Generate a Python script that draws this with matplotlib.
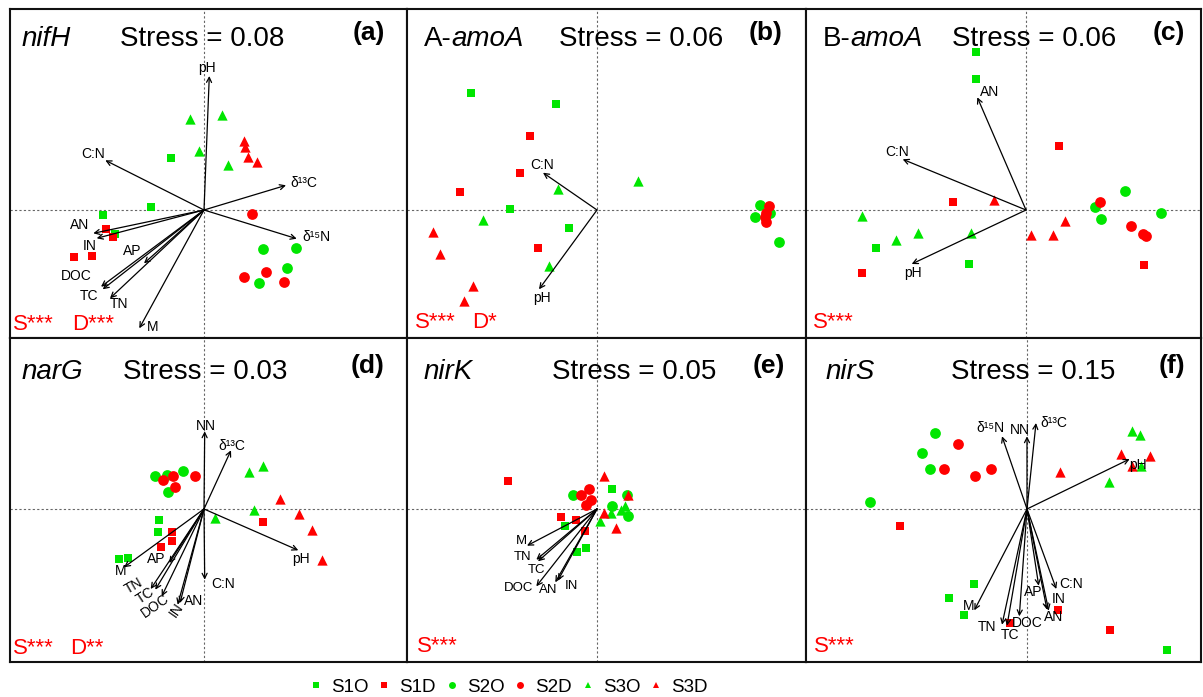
import matplotlib
matplotlib.use("Agg")
import matplotlib.pyplot as plt
from matplotlib.lines import Line2D

plt.rcParams['font.family'] = ['Liberation Sans', 'DejaVu Sans']

GREEN = '#00e600'
RED = '#ff0000'

# ---------------- data (NMDS scores, arbitrary units) ----------------
groups = ['S1O', 'S1D', 'S2O', 'S2D', 'S3O', 'S3D']

# panel (a) nifH
a_S1O = [(-0.333, 0.523), (-0.53, 0.033), (-1.013, -0.05), (-0.89, -0.243)]
a_S1D = [(-0.98, -0.187), (-0.907, -0.267), (-1.3, -0.473), (-1.12, -0.46)]
a_S2O = [(0.593, -0.393), (0.923, -0.383), (0.833, -0.58), (0.553, -0.727)]
a_S2D = [(0.483, -0.043), (0.617, -0.62), (0.403, -0.667), (0.8, -0.717)]
a_S3O = [(-0.14, 0.907), (0.177, 0.95), (-0.05, 0.593), (0.237, 0.453)]
a_S3D = [(0.403, 0.693), (0.413, 0.627), (0.44, 0.527), (0.527, 0.48)]
a_vec_names = ['pH', 'C:N', 'δ¹³C', 'δ¹⁵N', 'AN', 'IN', 'AP', 'DOC', 'TC', 'TN', 'M']
a_vec = [(0.053, 1.34), (-0.987, 0.497), (0.82, 0.247), (0.927, -0.287),
         (-1.107, -0.233), (-1.073, -0.283), (-0.6, -0.533), (-1.03, -0.767),
         (-1.013, -0.793), (-0.94, -0.883), (-0.647, -1.183)]

# panel (b) A-amoA
b_S1O = [(-1.26, 1.173), (-0.407, 1.063), (-0.867, 0.01), (-0.283, -0.177)]
b_S1D = [(-0.673, 0.743), (-0.773, 0.37), (-1.373, 0.183), (-0.587, -0.383)]
b_S2O = [(1.633, 0.05), (1.583, -0.07), (1.727, -0.033), (1.823, -0.323)]
b_S2D = [(1.723, 0.043), (1.69, -0.033), (1.693, -0.117), (1.683, -0.067)]
b_S3O = [(0.407, 0.29), (-0.393, 0.21), (-1.14, -0.1), (-0.483, -0.557)]
b_S3D = [(-1.643, -0.217), (-1.573, -0.44), (-1.24, -0.757), (-1.327, -0.91)]
b_vec_names = ['C:N', 'pH']
b_vec = [(-0.54, 0.373), (-0.58, -0.793)]

# panel (c) B-amoA
c_S1O = [(-0.5, 1.577), (-0.5, 1.31), (-1.5, -0.383), (-0.567, -0.543)]
c_S1D = [(0.327, 0.643), (-0.733, 0.077), (-1.637, -0.627), (1.18, -0.55)]
c_S2O = [(0.99, 0.19), (0.69, 0.033), (0.747, -0.09), (1.35, -0.027)]
c_S2D = [(0.74, 0.083), (1.047, -0.16), (1.173, -0.243), (1.2, -0.26)]
c_S3O = [(-1.637, -0.057), (-1.303, -0.3), (-1.077, -0.233), (-0.553, -0.233)]
c_S3D = [(-0.32, 0.1), (0.39, -0.107), (0.05, -0.25), (0.273, -0.25)]
c_vec_names = ['AN', 'C:N', 'pH']
c_vec = [(-0.487, 1.127), (-1.233, 0.507), (-1.143, -0.54)]

# panel (d) narG
d_S1O = [(-0.453, -0.107), (-0.463, -0.233), (-0.847, -0.5), (-0.757, -0.49)]
d_S1D = [(-0.32, -0.233), (-0.32, -0.317), (-0.427, -0.383), (0.593, -0.133)]
d_S2O = [(-0.487, 0.333), (-0.373, 0.337), (-0.207, 0.377), (-0.357, 0.167)]
d_S2D = [(-0.407, 0.293), (-0.313, 0.327), (-0.293, 0.22), (-0.087, 0.333)]
d_S3O = [(0.453, 0.367), (0.587, 0.427), (0.5, -0.013), (0.11, -0.09)]
d_S3D = [(0.76, 0.1), (0.953, -0.047), (1.077, -0.213), (1.183, -0.513)]
d_vec_names = ['NN', 'δ¹³C', 'pH', 'C:N', 'M', 'AP', 'TN', 'TC', 'DOC', 'IN', 'AN']
d_vec = [(0.007, 0.777), (0.27, 0.587), (0.943, -0.413), (0.007, -0.707),
         (-0.8, -0.583), (-0.347, -0.54), (-0.533, -0.8), (-0.487, -0.807),
         (-0.423, -0.873), (-0.263, -0.957), (-0.24, -0.94)]

# panel (e) nirK
e_S1O = [(0.147, 0.2), (-0.197, -0.427), (-0.107, -0.393), (-0.317, -0.173)]
e_S1D = [(-0.89, 0.277), (-0.357, -0.083), (-0.207, -0.107), (-0.12, -0.217)]
e_S2O = [(-0.24, 0.143), (0.153, 0.033), (0.31, -0.073), (0.303, 0.143)]
e_S2D = [(-0.157, 0.143), (-0.083, 0.203), (-0.063, 0.093), (-0.113, 0.037)]
e_S3O = [(0.027, -0.123), (0.137, -0.04), (0.28, 0.033), (0.243, -0.013)]
e_S3D = [(0.073, 0.333), (0.31, 0.143), (0.187, -0.19), (0.073, -0.04)]
e_vec_names = ['M', 'TN', 'TC', 'DOC', 'AN', 'IN']
e_vec = [(-0.7, -0.367), (-0.607, -0.507), (-0.59, -0.523), (-0.607, -0.773),
         (-0.417, -0.733), (-0.39, -0.713)]

# panel (f) nirS
f_S1O = [(-0.533, -0.75), (-0.777, -0.89), (-0.627, -1.057), (1.4, -1.413)]
f_S1D = [(-1.267, -0.173), (0.307, -1.013), (0.827, -1.207), (-0.173, -1.14)]
f_S2O = [(-0.923, 0.76), (-1.05, 0.56), (-0.967, 0.403), (-1.567, 0.067)]
f_S2D = [(-0.693, 0.65), (-0.827, 0.4), (-0.52, 0.327), (-0.36, 0.403)]
f_S3O = [(1.05, 0.777), (1.127, 0.743), (1.143, 0.433), (0.817, 0.27)]
f_S3D = [(0.327, 0.37), (0.943, 0.553), (1.227, 0.527), (1.05, 0.427)]
f_vec_names = ['δ¹⁵N', 'NN', 'δ¹³C', 'pH', 'C:N', 'AP', 'IN', 'AN', 'DOC', 'TC', 'TN', 'M']
f_vec = [(-0.25, 0.727), (0.0, 0.727), (0.09, 0.86), (1.027, 0.5), (0.293, -0.8),
         (0.117, -0.767), (0.2, -1.007), (0.217, -1.017), (-0.077, -1.073),
         (-0.2, -1.167), (-0.25, -1.157), (-0.527, -1.013)]

gene_prefix = ['', 'A-', 'B-', '', '', '']
gene_name = ['nifH', 'amoA', 'amoA', 'narG', 'nirK', 'nirS']
stress = ['0.08', '0.06', '0.06', '0.03', '0.05', '0.15']
panel_tags = ['(a)', '(b)', '(c)', '(d)', '(e)', '(f)']
signif = [('S***', 'D***'), ('S***', 'D*'), ('S***', ''), ('S***', 'D**'), ('S***', ''), ('S***', '')]

# ---------------- layout / style ----------------
W, H = 1203, 697
fig = plt.figure(figsize=(W / 100, H / 100), dpi=100)

cols = [(10, 407), (407, 806), (806, 1201)]
rows = [(9, 338), (338, 662)]
xlims = [(-1.94, 2.03), (-1.90, 2.09), (-2.20, 1.75), (-1.94, 2.03), (-1.90, 2.09), (-2.21, 1.74)]
ylims = [(-1.28, 2.01), (-1.28, 2.01), (-1.28, 2.01), (-1.53, 1.71), (-1.53, 1.71), (-1.53, 1.71)]

styles = {'S1O': ('s', GREEN, 30), 'S1D': ('s', RED, 30),
          'S2O': ('o', GREEN, 60), 'S2D': ('o', RED, 60),
          'S3O': ('^', GREEN, 55), 'S3D': ('^', RED, 55)}

panel_points = [
    [a_S1O, a_S1D, a_S2O, a_S2D, a_S3O, a_S3D],
    [b_S1O, b_S1D, b_S2O, b_S2D, b_S3O, b_S3D],
    [c_S1O, c_S1D, c_S2O, c_S2D, c_S3O, c_S3D],
    [d_S1O, d_S1D, d_S2O, d_S2D, d_S3O, d_S3D],
    [e_S1O, e_S1D, e_S2O, e_S2D, e_S3O, e_S3D],
    [f_S1O, f_S1D, f_S2O, f_S2D, f_S3O, f_S3D],
]
panel_vecs = [(a_vec_names, a_vec), (b_vec_names, b_vec), (c_vec_names, c_vec),
              (d_vec_names, d_vec), (e_vec_names, e_vec), (f_vec_names, f_vec)]

# label positions (layout) for vector names, per panel, and rotation
label_pos = [
    {'pH': (0.027, 1.417), 'C:N': (-1.113, 0.56), 'δ¹³C': (1.0, 0.273), 'δ¹⁵N': (1.127, -0.267),
     'AN': (-1.247, -0.15), 'IN': (-1.147, -0.36), 'AP': (-0.713, -0.407), 'DOC': (-1.273, -0.66),
     'TC': (-1.15, -0.86), 'TN': (-0.85, -0.94), 'M': (-0.513, -1.167)},
    {'C:N': (-0.55, 0.45), 'pH': (-0.55, -0.877)},
    {'AN': (-0.36, 1.183), 'C:N': (-1.293, 0.583), 'pH': (-1.133, -0.627)},
    {'NN': (0.02, 0.833), 'δ¹³C': (0.277, 0.633), 'pH': (0.967, -0.497), 'C:N': (0.187, -0.75),
     'M': (-0.833, -0.623), 'AP': (-0.48, -0.5), 'TN': (-0.707, -0.767), 'TC': (-0.583, -0.867),
     'DOC': (-0.49, -0.967), 'IN': (-0.273, -1.007), 'AN': (-0.1, -0.923)},
    {'M': (-0.757, -0.317), 'TN': (-0.74, -0.48), 'TC': (-0.607, -0.607), 'DOC': (-0.78, -0.79),
     'AN': (-0.483, -0.807), 'IN': (-0.257, -0.767)},
    {'δ¹⁵N': (-0.367, 0.81), 'NN': (-0.067, 0.793), 'δ¹³C': (0.267, 0.86), 'pH': (1.107, 0.443),
     'C:N': (0.44, -0.75), 'AP': (0.067, -0.833), 'IN': (0.32, -0.9), 'AN': (0.267, -1.08),
     'DOC': (0.0, -1.14), 'TC': (-0.167, -1.263), 'TN': (-0.4, -1.18), 'M': (-0.583, -0.973)},
]
label_rot = [{}, {}, {}, {'TN': 30, 'TC': 33, 'DOC': 35, 'IN': 55}, {}, {}]

gene_x = [22, 424, 823, 22, 424, 826]
stress_x = [120, 559, 952, 123, 552, 951]
tag_x = [385, 783, 1185, 385, 785, 1185]
title_y = [39, 39, 39, 372, 372, 372]
tag_y = [33, 33, 33, 366, 366, 366]
sig_x = [(13, 72), (415, 472), (813, 0), (13, 70), (417, 0), (814, 0)]
sig_y = [324, 323, 323, 648, 647, 647]


def fx(px):
    return px / W


def fy(py):
    return 1 - py / H


renderer = fig.canvas.get_renderer()

for i in range(6):
    r, c = divmod(i, 3)
    x0, x1 = cols[c]
    y0, y1 = rows[r]
    ax = fig.add_axes([x0 / W, 1 - y1 / H, (x1 - x0) / W, (y1 - y0) / H])
    ax.set_xlim(*xlims[i])
    ax.set_ylim(*ylims[i])
    ax.set_xticks([])
    ax.set_yticks([])
    for sp in ax.spines.values():
        sp.set_linewidth(1.5)
        sp.set_color('#111111')
    ax.axhline(0, color='#666666', lw=0.8, ls=(0, (2, 2)), zorder=1)
    ax.axvline(0, color='#666666', lw=0.8, ls=(0, (2, 2)), zorder=1)

    for g, pts in zip(groups, panel_points[i]):
        m, col, s = styles[g]
        xs = [p[0] for p in pts]
        ys = [p[1] for p in pts]
        ax.scatter(xs, ys, marker=m, c=col, s=s, linewidths=0, zorder=2)

    names, vecs = panel_vecs[i]
    fs = 9.5 if i == 4 else 10
    for nm, (vx, vy) in zip(names, vecs):
        ax.annotate('', xy=(vx, vy), xytext=(0, 0),
                    arrowprops=dict(arrowstyle='->', lw=0.9, color='black',
                                    shrinkA=0, shrinkB=0, mutation_scale=9),
                    zorder=3)
        lx, ly = label_pos[i][nm]
        ax.text(lx, ly, nm, ha='center', va='center', fontsize=fs,
                rotation=label_rot[i].get(nm, 0), zorder=4)

    # titles: optional upright prefix + italic gene name
    gx = fx(gene_x[i])
    if gene_prefix[i]:
        t = fig.text(gx, fy(title_y[i]), gene_prefix[i], fontsize=20, va='center', ha='left')
        bb = t.get_window_extent(renderer=renderer)
        gx = bb.x1 / W
    fig.text(gx, fy(title_y[i]), gene_name[i], fontsize=20, style='italic',
             va='center', ha='left')
    fig.text(fx(stress_x[i]), fy(title_y[i]), 'Stress = ' + stress[i], fontsize=20,
             va='center', ha='left')
    fig.text(fx(tag_x[i]), fy(tag_y[i]), panel_tags[i], fontsize=19, fontweight='bold',
             va='center', ha='right')
    s1, s2 = signif[i]
    sx1, sx2 = sig_x[i]
    fig.text(fx(sx1), fy(sig_y[i]), s1, fontsize=16, color=RED, va='center', ha='left')
    if s2:
        fig.text(fx(sx2), fy(sig_y[i]), s2, fontsize=16, color=RED, va='center', ha='left')

# legend
handles = []
for g in groups:
    m, col, s = styles[g]
    handles.append(Line2D([], [], marker=m, color=col, linestyle='none',
                          markersize=5, markeredgewidth=0, label=g))
fig.legend(handles=handles, loc='center', bbox_to_anchor=(509 / W, 1 - 687 / H),
           ncol=6, frameon=False, fontsize=13.5, handlelength=0.6, handletextpad=0.5,
           columnspacing=0.55)

fig.savefig('out.png', dpi=100)
